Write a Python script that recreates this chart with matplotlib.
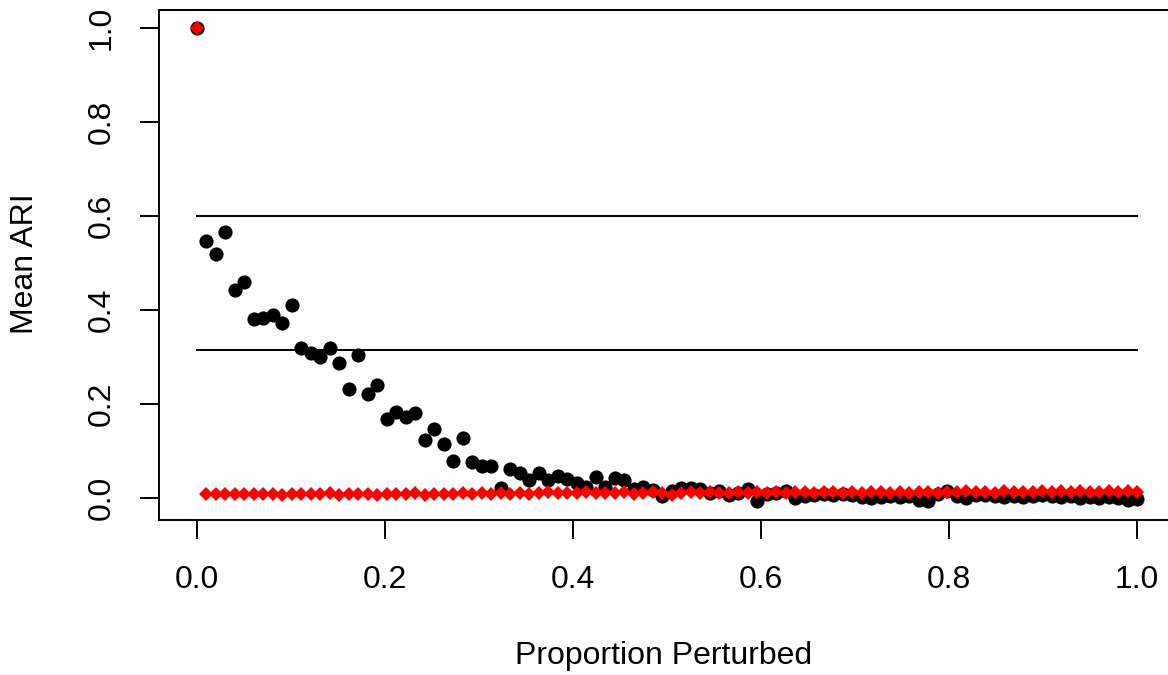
import matplotlib
matplotlib.use("Agg")
import matplotlib.pyplot as plt
import numpy as np

plt.rcParams['font.family'] = ['Liberation Sans', 'DejaVu Sans']

proportion = [i / 99 for i in range(100)]

mean_ari = [1.0, 0.546, 0.520, 0.566, 0.443, 0.459, 0.381, 0.384, 0.390, 0.372,
            0.411, 0.320, 0.308, 0.301, 0.319, 0.287, 0.232, 0.305, 0.221, 0.241,
            0.168, 0.183, 0.173, 0.181, 0.124, 0.147, 0.115, 0.079, 0.128, 0.077,
            0.068, 0.068, 0.021, 0.062, 0.053, 0.038, 0.053, 0.038, 0.047, 0.040,
            0.032, 0.023, 0.045, 0.023, 0.043, 0.038, 0.019, 0.023, 0.017, 0.004,
            0.015, 0.021, 0.021, 0.019, 0.011, 0.015, 0.006, 0.011, 0.019, -0.006,
            0.008, 0.011, 0.015, 0.000, 0.004, 0.006, 0.008, 0.006, 0.008, 0.006,
            0.002, 0.000, 0.002, 0.004, 0.002, 0.004, -0.004, -0.006, 0.008, 0.015,
            0.004, 0.000, 0.006, 0.006, 0.004, 0.002, 0.004, 0.002, 0.004, 0.006,
            0.004, 0.002, 0.004, 0.000, 0.002, 0.000, 0.002, 0.000, -0.004, -0.002]

null_ari = [1.0, 0.009, 0.008, 0.008, 0.008, 0.008, 0.009, 0.008, 0.008, 0.007,
            0.009, 0.008, 0.009, 0.008, 0.010, 0.007, 0.009, 0.008, 0.009, 0.007,
            0.008, 0.009, 0.008, 0.010, 0.007, 0.009, 0.008, 0.009, 0.010, 0.009,
            0.010, 0.009, 0.010, 0.009, 0.011, 0.009, 0.010, 0.012, 0.010, 0.011,
            0.010, 0.012, 0.010, 0.011, 0.010, 0.012, 0.009, 0.011, 0.012, 0.010,
            0.007, 0.010, 0.012, 0.011, 0.013, 0.010, 0.011, 0.013, 0.011, 0.012,
            0.010, 0.012, 0.011, 0.013, 0.012, 0.011, 0.013, 0.012, 0.011, 0.013,
            0.011, 0.012, 0.013, 0.010, 0.012, 0.011, 0.013, 0.012, 0.010, 0.013,
            0.012, 0.014, 0.012, 0.013, 0.011, 0.014, 0.012, 0.013, 0.012, 0.014,
            0.013, 0.015, 0.012, 0.014, 0.013, 0.012, 0.015, 0.013, 0.014, 0.012]

upper_line = 0.601
lower_line = 0.316

W, H = 1168, 675
fig = plt.figure(figsize=(W / 100, H / 100), dpi=100)
left_px, right_px, top_px, bottom_px = 159.4, 1174.6, 9.5, 519.5
ax = fig.add_axes([left_px / W, 1 - bottom_px / H, (right_px - left_px) / W, (bottom_px - top_px) / H])

ax.plot(proportion, mean_ari, 'o', color='black', markersize=10.2, markeredgewidth=0, zorder=3)
ax.plot(proportion, null_ari, 'D', color='red', markersize=7.6, markeredgewidth=0, zorder=4)
ax.plot([proportion[0], proportion[-1]], [upper_line, upper_line], color='black', lw=1.4, zorder=2)
ax.plot([proportion[0], proportion[-1]], [lower_line, lower_line], color='black', lw=1.4, zorder=2)

ax.set_xlim(-0.04, 1.04)
ax.set_ylim(-0.046, 1.04)
ticks = [0.0, 0.2, 0.4, 0.6, 0.8, 1.0]
ax.set_xticks(ticks)
ax.set_xticklabels(['0.0', '0.2', '0.4', '0.6', '0.8', '1.0'])
ax.set_yticks(ticks)
ax.set_yticklabels(['0.0', '0.2', '0.4', '0.6', '0.8', '1.0'], rotation=90, va='center')
ax.tick_params(axis='both', length=13.7, width=1.4, labelsize=23, direction='out')
ax.tick_params(axis='x', pad=19)
ax.tick_params(axis='y', pad=17)
for s in ax.spines.values():
    s.set_linewidth(1.4)

fig.text(664 / W, 1 - 656 / H, 'Proportion Perturbed', ha='center', va='center', fontsize=23)
fig.text(25 / W, 1 - 264 / H, 'Mean ARI', ha='center', va='center', rotation=90, fontsize=23)

fig.savefig('out.png', dpi=100)
